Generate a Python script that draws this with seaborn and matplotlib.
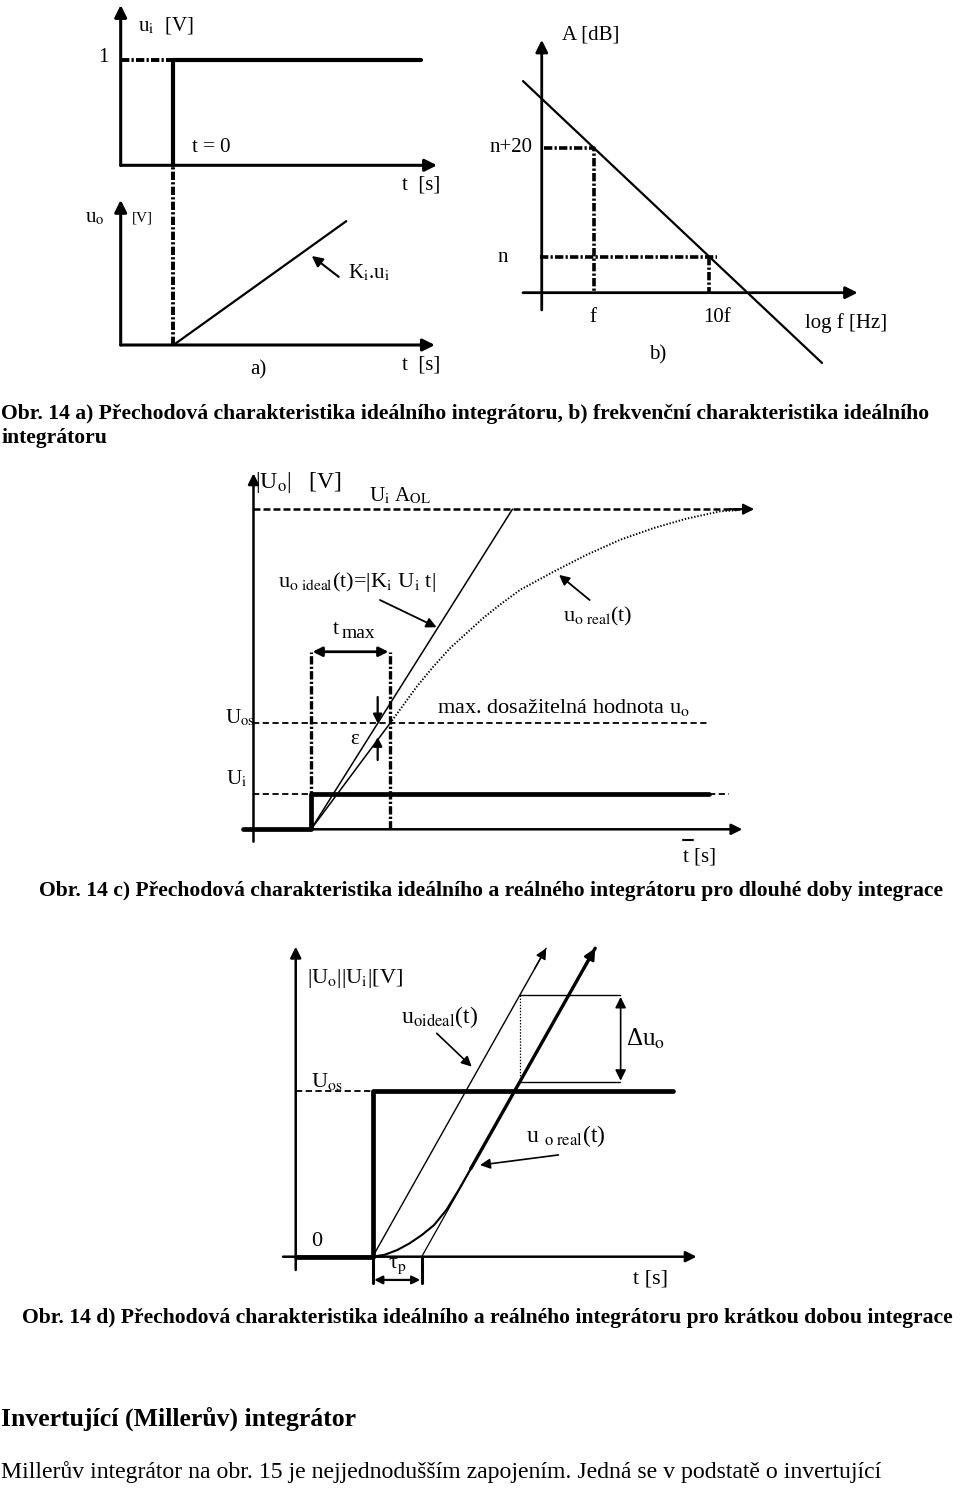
import matplotlib
matplotlib.use("Agg")
import matplotlib.pyplot as plt
import seaborn as sns

sns.set_theme(style="white")
plt.rcParams["font.family"] = ["Liberation Serif", "DejaVu Serif"]
plt.rcParams["mathtext.fontset"] = "stix"
plt.rcParams["lines.scale_dashes"] = False

# ------------------------------------------------------------------ data
# a) step input u_i and ideal integrator output (t in s, u in V)
a_step_t = [0, 0, 4.58]
a_step_u = [0, 1, 1]
a_ramp_t = [0, 3.2]
a_ramp_u = [0, 3.2]

# b) frequency characteristic (x = log f relative to f, y = gain relative to n dB)
b_logf = [-0.62, 0, 1, 1.98]
b_gain = [32.4, 20, 0, -19.6]
b_mark_logf = [0, 1]        # f, 10f
b_mark_gain = [20, 0]       # n+20, n

# c) long integration (t in t_max units, u in U_os units)
c_Ui = 0.33
c_Uos = 1.0
c_UiAOL = 3.02
c_ideal_t = [0, 2.55]
c_ideal_u = [0, 3.02]
c_real_lin_t = [0, 1.0]
c_real_lin_u = [0, 1.0]
c_real_t = [1.0, 1.34, 1.55, 1.76, 1.97, 2.18, 2.39, 2.65, 3.07, 3.49, 3.91, 4.33, 4.75, 5.18, 5.4]
c_real_u = [1.0, 1.347, 1.536, 1.709, 1.851, 1.993, 2.118, 2.26, 2.43, 2.59, 2.73, 2.84, 2.93, 3.0, 3.01]

# d) short integration (t in tau_p units, u in U_os units)
d_Uos = 1.0
d_ideal_t = [0, 3.54]
d_ideal_u = [0, 1.858]
d_asym_t = [1, 2.1]
d_asym_u = [0, 0.578]
d_real_t = [0, 0.25, 0.5, 0.75, 1.0, 1.25, 1.5, 1.75, 2.0, 2.25, 4.54]
d_real_u = [0, 0.012, 0.04, 0.08, 0.13, 0.19, 0.28, 0.40, 0.53, 0.66, 1.858]
d_delta_t = 3.0
d_delta_hi = 1.575
d_delta_lo = 1.05

# ------------------------------------------------------------------ figure
W, H = 960, 1492
fig = plt.figure(figsize=(W / 100, H / 100), dpi=100)
fig.patch.set_facecolor("white")
panels = []


def panel(ox, oy, sx, sy):
    ax = fig.add_axes([0, 0, 1, 1])
    ax.axis("off")
    ax.patch.set_alpha(0)
    panels.append((ax, (-ox / sx, (W - ox) / sx), ((oy - H) / sy, oy / sy)))
    return ax


def L(ax, x, y, lw=1.0, ls="-", z=2):
    sns.lineplot(x=x, y=y, ax=ax, color="black", lw=lw, linestyle=ls,
                 sort=False, estimator=None, legend=False, zorder=z)


def arrow(ax, tail, tip, lw=1.5, ms=16, style="-|>"):
    ax.annotate("", xy=tip, xytext=tail, xycoords="data", textcoords="data",
                arrowprops=dict(arrowstyle=style, color="black", lw=lw,
                                mutation_scale=ms, shrinkA=0, shrinkB=0),
                annotation_clip=False)


def T(x, y, s, size=13, ha="left", va="center", **kw):
    return fig.text(x / W, 1 - y / H, s, fontsize=size, ha=ha, va=va, color="black", **kw)


DASHDOT = (0, (6, 1.6, 1.6, 1.6))
DASH = (0, (4.5, 2.5))

# ---------------- panel a (top)
axa = panel(173.5, 165.3, 54, 105)
arrow(axa, (-0.978, 0), (4.88, 0), lw=2.2, ms=18)
arrow(axa, (-0.978, 0), (-0.978, 1.527), lw=2.2, ms=18)
L(axa, a_step_t, a_step_u, lw=3.0)
L(axa, [-0.978, 0], [1, 1], lw=2.8, ls=DASHDOT)
T(98, 58, "1", 15)
T(138, 25, r"u$_\mathrm{i}$  [V]", 15)
T(192, 148, "t = 0", 15)
T(402, 185, "t  [s]", 15)

# ---------------- panel a (bottom)
axb = panel(173.5, 345, 54, 38.7)
arrow(axb, (-0.978, 0), (4.84, 0), lw=2.2, ms=18)
arrow(axb, (-0.978, 0), (-0.978, 3.75), lw=2.2, ms=18)
L(axb, a_ramp_t, a_ramp_u, lw=1.6)
L(axb, [0, 0], [0, 4.64], lw=2.8, ls=DASHDOT)
arrow(axb, (3.06, 1.76), (2.56, 2.30), lw=1.5, ms=16)
T(85, 218, r"u$_\mathrm{o}$", 15)
T(132, 218, "[V]", 11)
T(348, 273, r"K$_\mathrm{i}$.u$_\mathrm{i}$", 15)
T(402, 365, "t  [s]", 15)
T(258, 370, "a)", 15, ha="center")

# ---------------- panel b
axc = panel(594.3, 256.7, 115, 5.42)
arrow(axc, (-0.62, -6.64), (2.29, -6.64), lw=2.0, ms=18)
arrow(axc, (-0.457, -9.83), (-0.457, 40), lw=2.0, ms=18)
L(axc, b_logf, b_gain, lw=1.6)
L(axc, [-0.44, b_mark_logf[0], b_mark_logf[0]], [b_mark_gain[0], b_mark_gain[0], -6.64], lw=2.6, ls=DASHDOT)
L(axc, [-0.47, 1.065], [b_mark_gain[1], b_mark_gain[1]], lw=2.6, ls=DASHDOT)
L(axc, [b_mark_logf[1], b_mark_logf[1]], [0, -6.64], lw=2.6, ls=DASHDOT)
T(562, 35, "A [dB]", 15)
T(490, 148, "n+20", 15)
T(503, 257, "n", 15, ha="center")
T(593, 318, "f", 15, ha="center")
T(717, 318, "10f", 15, ha="center")
T(805, 323, "log f [Hz]", 15)
T(658, 355, "b)", 15, ha="center")

# ---------------- panel c
CS = 16
axd = panel(311, 829.3, 79, 106)
arrow(axd, (-0.86, 0), (5.46, 0), lw=1.8, ms=16)
arrow(axd, (-0.728, -0.117), (-0.728, 3.358), lw=1.8, ms=16)
L(axd, [-0.728, 5.45], [c_UiAOL, c_UiAOL], lw=1.8, ls=(0, (5, 2.2)))
arrow(axd, (5.3, c_UiAOL), (5.61, c_UiAOL), lw=1.5, ms=16)
L(axd, [-0.728, 5.02], [c_Uos, c_Uos], lw=1.3, ls=DASH)
L(axd, [-0.728, 0], [c_Ui, c_Ui], lw=1.3, ls=DASH)
L(axd, [5.04, 5.29], [c_Ui, c_Ui], lw=1.3, ls=DASH)
L(axd, [-0.86, 0, 0, 5.04], [0, 0, c_Ui, c_Ui], lw=3.4)
L(axd, [0, 0], [0, 1.675], lw=2.4, ls=DASHDOT)
L(axd, [1, 1], [0, 1.675], lw=2.4, ls=DASHDOT)
arrow(axd, (0.02, 1.675), (0.98, 1.675), lw=2.0, ms=14, style="<|-|>")
L(axd, c_ideal_t, c_ideal_u, lw=1.1)
L(axd, c_real_lin_t, c_real_lin_u, lw=1.1)
L(axd, c_real_t, c_real_u, lw=1.4, ls=(0, (1, 1.3)))
arrow(axd, (0.844, 1.248), (0.844, 1.0), lw=1.6, ms=13)
arrow(axd, (0.844, 0.654), (0.844, 0.87), lw=1.6, ms=13)
arrow(axd, (0.873, 2.163), (1.59, 1.906), lw=1.3, ms=15)
arrow(axd, (3.527, 2.163), (3.14, 2.40), lw=1.3, ms=15)
T(255, 483, r"|U$_\mathrm{o}$|   [V]", 17)
T(369, 496, r"U$_\mathrm{i}$ A$_\mathrm{OL}$", 15)
T(278, 582, r"u$_\mathrm{o\ ideal}$(t)=|K$_\mathrm{i}$ U$_\mathrm{i}$ t|", CS)
T(563, 616, r"u$_\mathrm{o\ real}$(t)", CS)
T(333, 629, "t", CS)
T(342, 634, "max", 14)
T(437, 707, r"max. dosažitelná hodnota u$_\mathrm{o}$", CS)
T(225, 718, r"U$_\mathrm{os}$", 15)
T(355, 740, "ε", 15, ha="center")
T(226, 779, r"U$_\mathrm{i}$", 15)
T(683, 857, "t [s]", 15)
fig.add_artist(plt.Line2D([683 / W, 693 / W], [1 - 840 / H, 1 - 840 / H], color="black", lw=1.5))

# ---------------- panel d
DS = 17
axe = panel(372.7, 1256.7, 49, 166)
arrow(axe, (-1.83, 0), (6.61, 0), lw=1.8, ms=16)
arrow(axe, (-1.571, -0.08), (-1.571, 1.867), lw=1.8, ms=16)
L(axe, [-1.571, 0], [d_Uos, d_Uos], lw=1.3, ls=DASH)
L(axe, [-1.571, 0, 0, 6.12], [0, 0, d_Uos, d_Uos], lw=3.4)
L(axe, d_ideal_t, d_ideal_u, lw=1.0)
arrow(axe, (3.3, 0.525 * 3.3), (d_ideal_t[1], d_ideal_u[1]), lw=1.0, ms=16)
L(axe, d_asym_t, d_asym_u, lw=0.9)
L(axe, d_real_t[:10], d_real_u[:10], lw=1.5)
L(axe, d_real_t[8:], d_real_u[8:], lw=2.4)
arrow(axe, (4.3, 0.525 * 3.3), (d_real_t[-1], d_real_u[-1]), lw=2.0, ms=16)
L(axe, [d_delta_t, 5.05], [d_delta_hi, d_delta_hi], lw=1.0)
L(axe, [d_delta_t, 5.05], [d_delta_lo, d_delta_lo], lw=1.0)
L(axe, [d_delta_t, d_delta_t], [d_delta_lo, d_delta_hi], lw=0.9, ls=(0, (1, 1.2)))
arrow(axe, (5.06, d_delta_lo + 0.01), (5.06, d_delta_hi - 0.01), lw=1.2, ms=16, style="<|-|>")
L(axe, [0, 0], [0, -0.158], lw=2.2)
L(axe, [1, 1], [0, -0.158], lw=2.2)
arrow(axe, (0.03, -0.14), (0.97, -0.14), lw=1.6, ms=12, style="<|-|>")
arrow(axe, (1.306, 1.346), (2.02, 1.145), lw=1.2, ms=15)
arrow(axe, (3.79, 0.613), (2.19, 0.552), lw=1.2, ms=15)
T(307, 978, r"|U$_\mathrm{o}$||U$_\mathrm{i}$|[V]", 16)
T(401, 1017, r"u$_\mathrm{oideal}$(t)", DS)
T(626, 1039, r"Δu$_\mathrm{o}$", 18)
T(311, 1081, r"U$_\mathrm{os}$", 16)
T(526, 1136, r"u $_\mathrm{o\ real}$(t)", DS)
T(311, 1242, "0", 16)
T(397, 1266, r"τ$_\mathrm{p}$", 16, ha="center")
T(633, 1279, "t [s]", 16)

# ---------------- captions / text
renderer = fig.canvas.get_renderer()


def fit_text(x, y, s, width, weight="normal"):
    t = fig.text(x / W, 1 - y / H, s, fontsize=14, fontweight=weight,
                 ha="left", va="baseline", color="black")
    w = t.get_window_extent(renderer).width
    t.set_fontsize(14 * width / w)
    return t


cap1 = fit_text(1, 419, "Obr. 14 a) Přechodová charakteristika ideálního integrátoru, b) frekvenční charakteristika ideálního", 929, "bold")
fig.text(1 / W, 1 - 443 / H, "integrátoru", fontsize=cap1.get_fontsize(), fontweight="bold",
         ha="left", va="baseline", color="black")
capd = fit_text(22, 1323, "Obr. 14 d) Přechodová charakteristika ideálního a reálného integrátoru pro krátkou dobou integrace", 936, "bold")
fig.text(943 / W, 1 - 896 / H, "Obr. 14 c) Přechodová charakteristika ideálního a reálného integrátoru pro dlouhé doby integrace",
         fontsize=capd.get_fontsize(), fontweight="bold", ha="right", va="baseline", color="black")
fit_text(1, 1426, "Invertující (Millerův) integrátor", 356, "bold")
fit_text(1, 1478, "Millerův integrátor na obr. 15 je nejjednodušším zapojením. Jedná se v podstatě o invertující", 884)

for ax, xl, yl in panels:
    ax.set_xlim(*xl)
    ax.set_ylim(*yl)
    ax.set_position([0, 0, 1, 1])

fig.savefig("out.png", dpi=100, facecolor="white")
